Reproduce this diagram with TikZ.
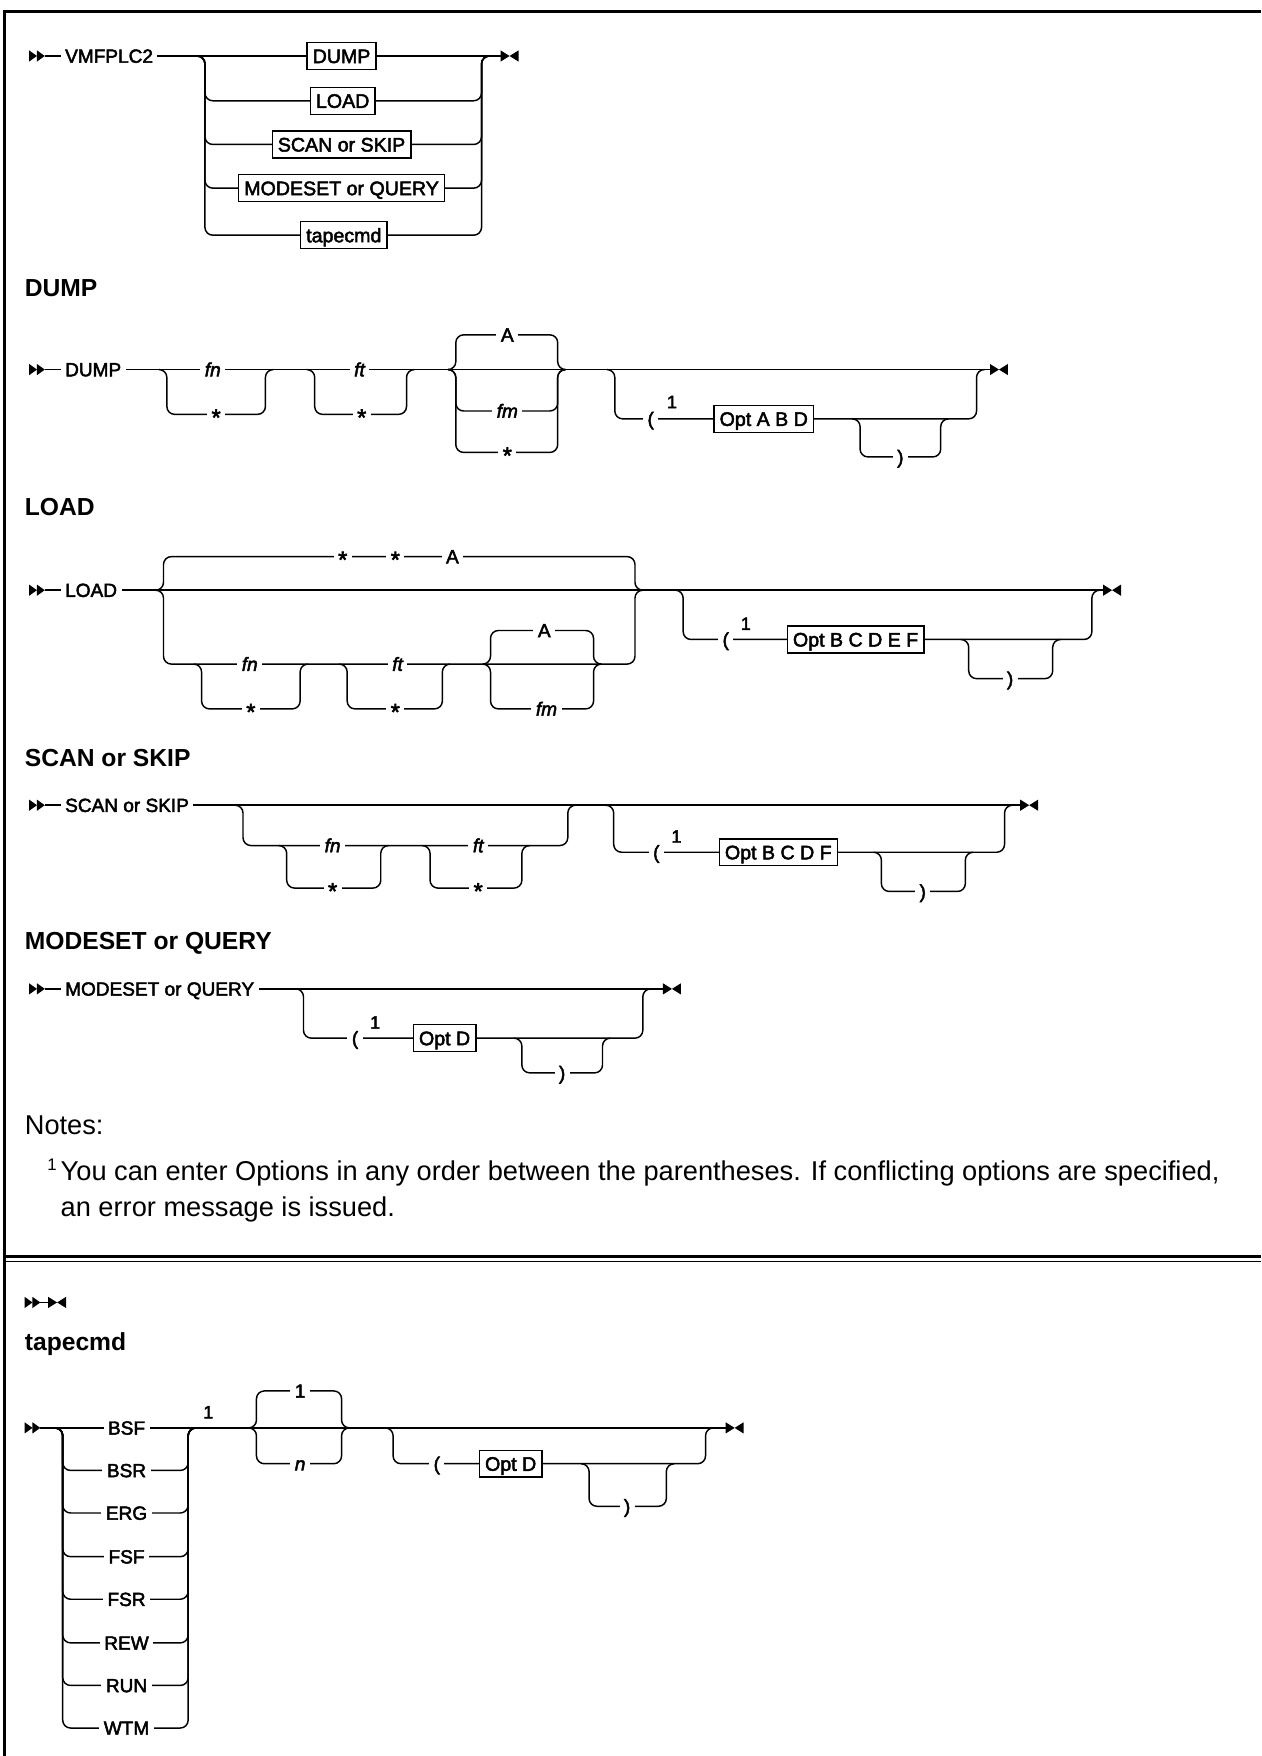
\documentclass[tikz,border=0pt]{standalone}
\usepackage{fontspec}
\setmainfont{Liberation Sans}
\newfontfamily\diagfam[FakeBold=2.5]{Liberation Sans}
\usetikzlibrary{positioning}

\newcommand\lblfont{\diagfam\fontsize{17}{18}\selectfont}
\newcommand\boxfont{\diagfam\fontsize{17.5}{19}\selectfont}
\newcommand\headfont{\fontsize{22}{26}\selectfont\bfseries}
\newcommand\notefont{\fontsize{24.3}{32}\selectfont}
\newcommand\supfont{\diagfam\fontsize{16}{17}\selectfont}

% x left, x right, y main, y low
\newcommand\raildrop[4]{%
  \draw[rail] (#1-7,#3) -- (#1,#3) -- (#1,#4) -- (#2,#4) -- (#2,#3) -- (#2+7,#3);}
% tip left, tip right, y main, y branch
\newcommand\railbrace[4]{%
  \draw[rail] (#1,#3) -- (#1+7,#3) -- (#1+7,#4) -- (#2-7,#4) -- (#2-7,#3) -- (#2,#3);}

\tikzset{
  startmk/.pic={
    \fill (0,-5) -- (7,0) -- (0,5) -- cycle;
    \fill (7,-5) -- (14,0) -- (7,5) -- cycle;
    \draw[line width=1.3pt] (14,0) -- (21,0);
  },
  endmk/.pic={
    \fill (0,-5) -- (8,0) -- (0,5) -- cycle;
    \fill (16,-5) -- (8,0) -- (16,5) -- cycle;
  }
}

\begin{document}
\begin{tikzpicture}[
    x=1pt, y=-1pt,
    rail/.style={line width=1.3pt, rounded corners=7pt},
    lbl/.style={fill=white, inner xsep=4pt, inner ysep=1pt, font=\lblfont,
                text height=12pt, text depth=0pt},
    ast/.style={lbl, font=\diagfam\fontsize{21}{21}\selectfont, yshift=-4pt},
    kw/.style={draw, fill=white, line width=1.3pt, font=\boxfont,
               minimum height=24pt, inner xsep=5pt, inner ysep=0pt,
               text height=12.6pt, text depth=0pt},
    head/.style={anchor=west, inner sep=0pt, font=\headfont},
    supone/.style={inner sep=0pt, font=\supfont}
]
\useasboundingbox (0,0) rectangle (1126,1568);

% frame
\draw[line width=2.5pt] (1126,10) -- (4,10) -- (4,1568);
\draw[line width=2.5pt] (4,1122) -- (1126,1122);
\draw[line width=1.5pt] (4,1126.5) -- (1126,1126.5);

% VMFPLC2
\coordinate (s1) at (26,50);
\coordinate (e1) at (447,50);
\pic at (s1) {startmk};
\draw[rail] ([xshift=21pt]s1) -- (e1);
\pic at (e1) {endmk};
\foreach \y in {90,129,168,210} {\raildrop{183}{430}{50}{\y}}
\node[lbl, anchor=west] (vmf) at (54,50) {VMFPLC2};
\node[kw] (dump) at (305,50) {DUMP};
\node[kw] (load) at (306,90) {LOAD};
\node[kw] (scan) at (305,129) {SCAN or SKIP};
\node[kw] (mode) at (305,168) {MODESET or QUERY};
\node[kw] (tape) at (307,210) {tapecmd};

% DUMP
\node[head] (hdump) at (22,257) {DUMP};
\coordinate (s2) at (26,330);
\coordinate (e2) at (884,330);
\pic at (s2) {startmk};
\draw[rail] ([xshift=21pt]s2) -- (e2);
\pic at (e2) {endmk};
\raildrop{149}{237}{330}{370}
\raildrop{281}{363}{330}{370}
\railbrace{400}{505}{330}{299}
\railbrace{400}{505}{330}{367}
\railbrace{400}{505}{330}{404}
\raildrop{549}{872}{330}{374}
\raildrop{768}{840}{374}{408}
\node[lbl, anchor=west] (ldump) at (54,330) {DUMP};
\node[lbl] (dfn) at (190,330) {\itshape fn};
\node[ast] (dfnx) at (193,370) {*};
\node[lbl] (dft) at (321,330) {\itshape ft};
\node[ast] (dftx) at (323,370) {*};
\node[lbl] (dfa) at (453,299) {A};
\node[lbl] (dfm) at (453,367) {\itshape fm};
\node[ast] (dfmx) at (453,404) {*};
\node[lbl] (dlp) at (581,374) {(};
\node[supone] (dsup) at (600,359) {1};
\node[kw] (optabd) at (682,374) {Opt A B D};
\node[lbl] (drp) at (804,408) {)};

% LOAD
\node[head] (hload) at (22,453) {LOAD};
\coordinate (s3) at (26,527);
\coordinate (e3) at (985,527);
\pic at (s3) {startmk};
\draw[rail] ([xshift=21pt]s3) -- (e3);
\pic at (e3) {endmk};
\railbrace{139}{574}{527}{497}
\railbrace{139}{574}{527}{593}
\raildrop{180}{268}{593}{633}
\raildrop{310}{395}{593}{633}
\railbrace{431}{537}{593}{563}
\railbrace{431}{537}{593}{633}
\raildrop{610}{975}{527}{571}
\raildrop{865}{940}{571}{606}
\node[lbl, anchor=west] (lload) at (54,527) {LOAD};
\node[ast] (lx1) at (306,497) {*};
\node[ast] (lx2) at (353,497) {*};
\node[lbl] (la1) at (404,497) {A};
\node[lbl] (lfn) at (223,593) {\itshape fn};
\node[ast] (lfnx) at (224,633) {*};
\node[lbl] (lft) at (355,593) {\itshape ft};
\node[ast] (lftx) at (353,633) {*};
\node[lbl] (la2) at (486,563) {A};
\node[lbl] (lfm) at (488,633) {\itshape fm};
\node[lbl] (llp) at (648,571) {(};
\node[supone] (lsup) at (666,557) {1};
\node[kw] (optbcdef) at (764,571) {Opt B C D E F};
\node[lbl] (lrp) at (902,606) {)};

% SCAN or SKIP
\node[head] (hscan) at (22,677) {SCAN or SKIP};
\coordinate (s4) at (26,719);
\coordinate (e4) at (911,719);
\pic at (s4) {startmk};
\draw[rail] ([xshift=21pt]s4) -- (e4);
\pic at (e4) {endmk};
\raildrop{217}{507}{719}{755}
\raildrop{256}{340}{755}{793}
\raildrop{384}{466}{755}{793}
\raildrop{548}{897}{719}{761}
\raildrop{787}{862}{761}{796}
\node[lbl, anchor=west] (lscan) at (54,719) {SCAN or SKIP};
\node[lbl] (sfn) at (297,755) {\itshape fn};
\node[ast] (sfnx) at (297,793) {*};
\node[lbl] (sft) at (427,755) {\itshape ft};
\node[ast] (sftx) at (427,793) {*};
\node[lbl] (slp) at (586,761) {(};
\node[supone] (ssup) at (604,747) {1};
\node[kw] (optbcdf) at (695,761) {Opt B C D F};
\node[lbl] (srp) at (824,796) {)};

% MODESET or QUERY
\node[head] (hmode) at (22,842) {MODESET or QUERY};
\coordinate (s5) at (26,883);
\coordinate (e5) at (592,883);
\pic at (s5) {startmk};
\draw[rail] ([xshift=21pt]s5) -- (e5);
\pic at (e5) {endmk};
\raildrop{271}{574}{883}{927}
\raildrop{466}{538}{927}{958}
\node[lbl, anchor=west] (lmode) at (54,883) {MODESET or QUERY};
\node[lbl] (mlp) at (317,927) {(};
\node[supone] (msup) at (335,913) {1};
\node[kw] (optd1) at (397,927) {Opt D};
\node[lbl] (mrp) at (502,958) {)};

% notes
\node[anchor=west, inner sep=0pt, font=\notefont] (notes) at (22,1005) {Notes:};
\node[anchor=base west, inner sep=0pt, font=\fontsize{15}{16}\selectfont] (fnum) at (42,1045) {1};
\node[anchor=base west, inner sep=0pt, font=\notefont] (fnl1) at (54,1054)
    {You can enter Options in any order between the parentheses. If conflicting options are specified,};
\node[anchor=base west, inner sep=0pt, font=\notefont] (fnl2) at (54,1086)
    {an error message is issued.};

% empty
\coordinate (s6) at (22,1163);
\pic at (s6) {startmk};
\pic at ([xshift=21pt]s6) {endmk};

% tapecmd
\node[head] (htape) at (22,1200) {tapecmd};
\coordinate (s7) at (22,1275);
\coordinate (e7) at (648,1275);
\pic at (s7) {startmk};
\draw[rail] ([xshift=21pt]s7) -- (e7);
\pic at (e7) {endmk};
\node[lbl] (bsf) at (113,1275) {BSF};
\foreach \lab/\y in {BSR/1313, ERG/1351, FSF/1390, FSR/1428,
                     REW/1467, RUN/1505, WTM/1543} {
    \raildrop{56}{168}{1275}{\y}
    \node[lbl] (\lab) at (113,\y) {\lab};
}
\node[supone] (tsup) at (186,1261) {1};
\railbrace{222}{312}{1275}{1242}
\railbrace{222}{312}{1275}{1307}
\raildrop{351}{630}{1275}{1307}
\raildrop{526}{595}{1307}{1345}
\node[lbl] (tone) at (268,1242) {1};
\node[lbl] (tn) at (268,1307) {\itshape n};
\node[lbl] (tlp) at (390,1307) {(};
\node[kw] (optd2) at (456,1307) {Opt D};
\node[lbl] (trp) at (560,1345) {)};

\end{tikzpicture}
\end{document}
